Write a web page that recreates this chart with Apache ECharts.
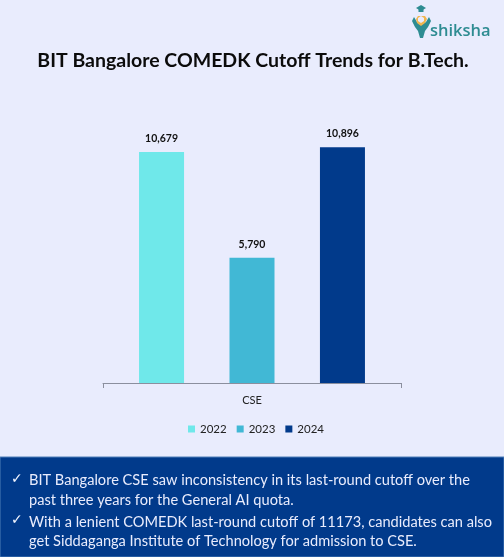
<!DOCTYPE html>
<html>
<head>
<meta charset="utf-8">
<style>
html, body { margin: 0; padding: 0; background: #E9ECFD; }
#chart { width: 504px; height: 557px; }
</style>
<script src="https://cdn.jsdelivr.net/npm/echarts@6/dist/echarts.min.js"></script>
</head>
<body>
<div id="chart"></div>
<script>
const categories = ['CSE'];
const years = ['2022', '2023', '2024'];
const cutoff2022 = [10679];
const cutoff2023 = [5790];
const cutoff2024 = [10896];
const yearColors = ['#6FE8EA', '#41B8D5', '#013A8B'];
const chartTitle = 'BIT Bangalore COMEDK Cutoff Trends for B.Tech.';
const notes = [
    'BIT Bangalore CSE saw inconsistency in its last-round cutoff over the',
    'past three years for the General AI quota.',
    'With a lenient COMEDK last-round cutoff of 11173, candidates can also',
    'get Siddaganga Institute of Technology for admission to CSE.'
];
const fontName = 'Lato';

function formatoValor(p) {
    return Number(p.value).toLocaleString('en-US');
}

function serie(name, data, color) {
    return {
        name: name,
        type: 'bar',
        data: data,
        barWidth: 45,
        barGap: '101%',
        itemStyle: { color: color },
        label: {
            show: true,
            position: 'top',
            distance: 8,
            formatter: formatoValor,
            color: '#111',
            fontFamily: fontName,
            fontWeight: 'bold',
            fontSize: 10.5
        }
    };
}

let chart = echarts.init(document.getElementById('chart'), null, { renderer: 'canvas' });
let option = {
    animation: false,
    backgroundColor: '#E9ECFD',
    title: {
        text: chartTitle,
        left: 248,
        top: 46,
        textAlign: 'center',
        textStyle: { fontFamily: fontName, fontWeight: 'bold', fontSize: 19.5, color: '#0B0B0B' }
    },
    legend: {
        data: years,
        left: 183,
        top: 418,
        itemWidth: 7,
        itemHeight: 7,
        itemGap: 10,
        icon: 'rect',
        textStyle: { fontFamily: fontName, fontSize: 11.5, color: '#222' }
    },
    grid: { left: 103, width: 298, top: 123.4, height: 259.6 },
    xAxis: {
        type: 'category',
        data: categories,
        axisLine: { lineStyle: { color: '#8B8F9E', width: 1 } },
        axisTick: { show: true, interval: 0, alignWithLabel: false, length: 5, lineStyle: { color: '#8B8F9E', width: 1 } },
        axisLabel: { fontFamily: fontName, fontSize: 11, color: '#222', margin: 12 }
    },
    yAxis: { type: 'value', min: 0, max: 12000, show: false },
    series: [
        serie(years[0], cutoff2022, yearColors[0]),
        serie(years[1], cutoff2023, yearColors[1]),
        serie(years[2], cutoff2024, yearColors[2])
    ],
    graphic: [
        // panel de notas
        { type: 'rect', silent: true, shape: { x: 0, y: 457, width: 504, height: 100 },
          style: { fill: '#013A8B', stroke: '#4F7FB8', lineWidth: 1 } },
        { type: 'text', style: { x: 11, y: 472, text: '\u2713', fill: '#F2F5FF', font: '14px "DejaVu Sans"' } },
        { type: 'text', style: { x: 11, y: 513, text: '\u2713', fill: '#F2F5FF', font: '14px "DejaVu Sans"' } },
        { type: 'text', style: { x: 29, y: 473, text: notes[0], fill: '#E9ECFD', font: '14.6px ' + fontName } },
        { type: 'text', style: { x: 29, y: 492.5, text: notes[1], fill: '#E9ECFD', font: '14.6px ' + fontName } },
        { type: 'text', style: { x: 29, y: 514.5, text: notes[2], fill: '#E9ECFD', font: '14.6px ' + fontName } },
        { type: 'text', style: { x: 29, y: 533.5, text: notes[3], fill: '#E9ECFD', font: '14.6px ' + fontName } },
        // logo
        { type: 'polygon', silent: true, shape: { points: [[416, 8], [421, 5], [426, 8], [421, 11]] }, style: { fill: '#2E8C92' } },
        { type: 'rect', silent: true, shape: { x: 418.5, y: 9, width: 5, height: 3 }, style: { fill: '#2E8C92' } },
        { type: 'polygon', silent: true,
          shape: { points: [[414, 17], [417, 22], [421, 25], [426, 22], [429, 17], [431, 21], [428, 27], [425, 31], [423, 38], [420, 38], [418, 31], [415, 27], [412, 21]] },
          style: { fill: '#2E8C92' } },
        { type: 'polygon', silent: true,
          shape: { points: [[416, 19], [418, 16], [425, 16], [427, 19], [425, 23], [421, 26], [417, 23]] },
          style: { fill: '#F0B64F' } },
        { type: 'polygon', silent: true,
          shape: { points: [[418, 18], [421, 16], [424, 18], [424, 21], [421, 23], [418, 21]] },
          style: { fill: '#E9ECFD' } },
        { type: 'text', style: { x: 430, y: 23, text: 'shiksha', fill: '#2E8C92', font: '600 16.5px "Open Sans"' } }
    ]
};
option && chart.setOption(option);
</script>
</body>
</html>
